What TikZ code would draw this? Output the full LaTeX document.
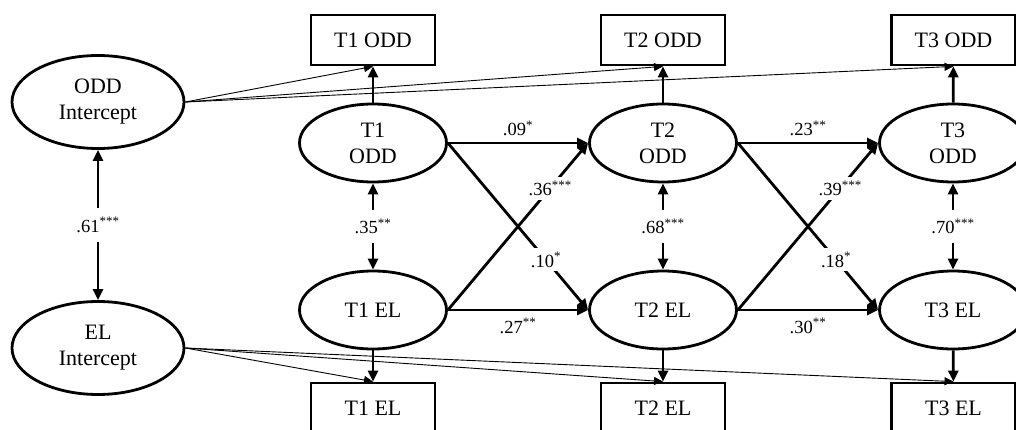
\documentclass[tikz,border=0pt]{standalone}
\usepackage{fontspec}
\setmainfont{Liberation Serif}
\usetikzlibrary{arrows.meta,shapes.geometric}

\begin{document}
\begin{tikzpicture}[x=1pt,y=-1pt,
  latent/.style={ellipse, draw, line width=2.8pt, minimum width=147pt,
    minimum height=78pt, inner sep=0pt, align=center,
    font=\fontsize{22}{26}\selectfont},
  icept/.style={latent, minimum width=172pt, minimum height=93pt},
  obs/.style={rectangle, draw, line width=2.8pt, minimum width=124pt,
    minimum height=50pt, inner sep=0pt, font=\fontsize{22}{26}\selectfont},
  regr/.style={line width=2.8pt, -{Triangle[length=11pt,width=10pt]}},
  cov/.style={line width=2.8pt,
    {Triangle[length=11pt,width=10pt]}-{Triangle[length=11pt,width=10pt]}},
  load/.style={line width=0.9pt, -{Triangle[length=9pt,width=8pt]}},
  coef/.style={font=\fontsize{18.5}{22}\selectfont, inner sep=1pt},
  vgap/.style={coef, fill=white, inner xsep=2pt, inner ysep=9pt},
  dgap/.style={coef, fill=white, inner sep=4pt}
]
\useasboundingbox (0,0) rectangle (1016,430);
\clip (0,0) rectangle (1016,430);

% intercept factors
\node[icept] (ODDI) at (98,102) {ODD\\Intercept};
\node[icept] (ELI)  at (98,348) {EL\\Intercept};

% latent variables per wave
\node[latent] (O1) at (373,143) {T1\\ODD};
\node[latent] (O2) at (663,143) {T2\\ODD};
\node[latent] (O3) at (953,143) {T3\\ODD};
\node[latent] (E1) at (373,310) {T1 EL};
\node[latent] (E2) at (663,310) {T2 EL};
\node[latent] (E3) at (953,310) {T3 EL};

% observed indicators
\node[obs] (BO1) at (373,40)  {T1 ODD};
\node[obs] (BO2) at (663,40)  {T2 ODD};
\node[obs] (BO3) at (953.5,40) {T3 ODD};
\node[obs] (BE1) at (373,408) {T1 EL};
\node[obs] (BE2) at (663,408) {T2 EL};
\node[obs] (BE3) at (953.5,408) {T3 EL};

% measurement paths
\foreach \w in {1,2,3} {
  \draw[regr] (O\w) -- (BO\w);
  \draw[regr] (E\w) -- (BE\w);
}

% intercept loadings
\foreach \w in {1,2,3} {
  \draw[load] (ODDI.east) -- (BO\w.south);
  \draw[load] (ELI.east) -- (BE\w.north);
}

% intercept covariance
\draw[cov] (ODDI) -- node[vgap] {.61\textsuperscript{***}} (ELI);

% within-wave covariances
\draw[cov] (O1) -- node[vgap] {.35\textsuperscript{**}} (E1);
\draw[cov] (O2) -- node[vgap] {.68\textsuperscript{***}} (E2);
\draw[cov] (O3) -- node[vgap] {.70\textsuperscript{***}} (E3);

% autoregressive paths
\draw[regr] (O1) -- node[coef, above=5pt] {.09\textsuperscript{*}} (O2);
\draw[regr] (O2) -- node[coef, above=5pt] {.23\textsuperscript{**}} (O3);
\draw[regr] (E1) -- node[coef, below=6pt] {.27\textsuperscript{**}} (E2);
\draw[regr] (E2) -- node[coef, below=6pt] {.30\textsuperscript{**}} (E3);

% cross-lagged paths
\draw[regr] (O1.east) -- node[dgap, pos=0.7] {.10\textsuperscript{*}} (E2.west);
\draw[regr] (E1.east) -- node[dgap, pos=0.73] {.36\textsuperscript{***}} (O2.west);
\draw[regr] (O2.east) -- node[dgap, pos=0.7] {.18\textsuperscript{*}} (E3.west);
\draw[regr] (E2.east) -- node[dgap, pos=0.73] {.39\textsuperscript{***}} (O3.west);
\end{tikzpicture}
\end{document}
